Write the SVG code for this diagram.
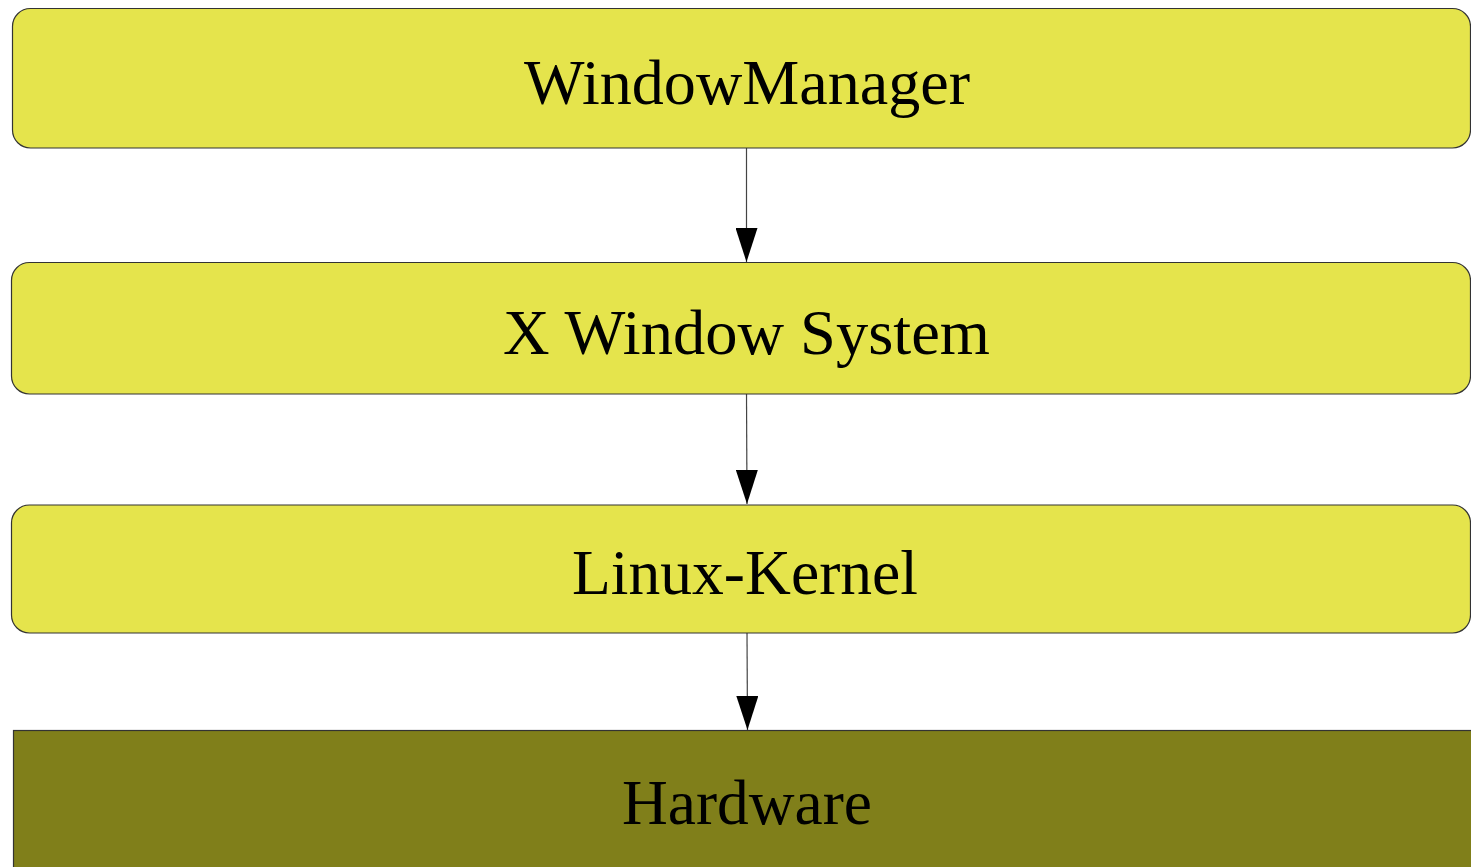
<svg xmlns="http://www.w3.org/2000/svg" width="1471" height="867" viewBox="0 0 1471 867">
<defs>
<style>
.box{fill:#e5e44c;stroke:#333;stroke-width:1.2}
.hw{fill:#807f1a;stroke:#333;stroke-width:1.2}
.lbl{font-family:"Liberation Serif","Times New Roman",serif;font-size:63px;fill:#000;text-anchor:middle}
.edge{stroke:#444;stroke-width:1.2;fill:none}
</style>
<marker id="ah" markerWidth="34" markerHeight="22" refX="34" refY="11" orient="auto" markerUnits="userSpaceOnUse" viewBox="0 0 34 22">
<path d="M0,0 L34,11 L0,22 Z" fill="#000"/>
</marker>
</defs>
<rect width="1471" height="867" fill="#fff"/>
<g id="connectors">
<line class="edge" x1="746.5" y1="148" x2="746.5" y2="262" marker-end="url(#ah)"/>
<line class="edge" x1="746.5" y1="394" x2="747" y2="504" marker-end="url(#ah)"/>
<line class="edge" x1="747" y1="633" x2="747.5" y2="730" marker-end="url(#ah)"/>
</g>
<g id="windowmanager">
<rect class="box" x="12.5" y="8.5" width="1458" height="139.5" rx="18" ry="18"/>
<text class="lbl" x="747" y="104" textLength="446" lengthAdjust="spacingAndGlyphs">WindowManager</text>
</g>
<g id="xwindow">
<rect class="box" x="11.5" y="262.5" width="1459" height="131.5" rx="18" ry="18"/>
<text class="lbl" x="746.5" y="354" textLength="487" lengthAdjust="spacingAndGlyphs">X Window System</text>
</g>
<g id="kernel">
<rect class="box" x="11.5" y="505" width="1459" height="128" rx="18" ry="18"/>
<text class="lbl" x="745" y="594" textLength="346" lengthAdjust="spacingAndGlyphs">Linux-Kernel</text>
</g>
<g id="hardware">
<rect class="hw" x="13.5" y="730.5" width="1476" height="150"/>
<text class="lbl" x="747" y="824" textLength="250" lengthAdjust="spacingAndGlyphs">Hardware</text>
</g>
</svg>
